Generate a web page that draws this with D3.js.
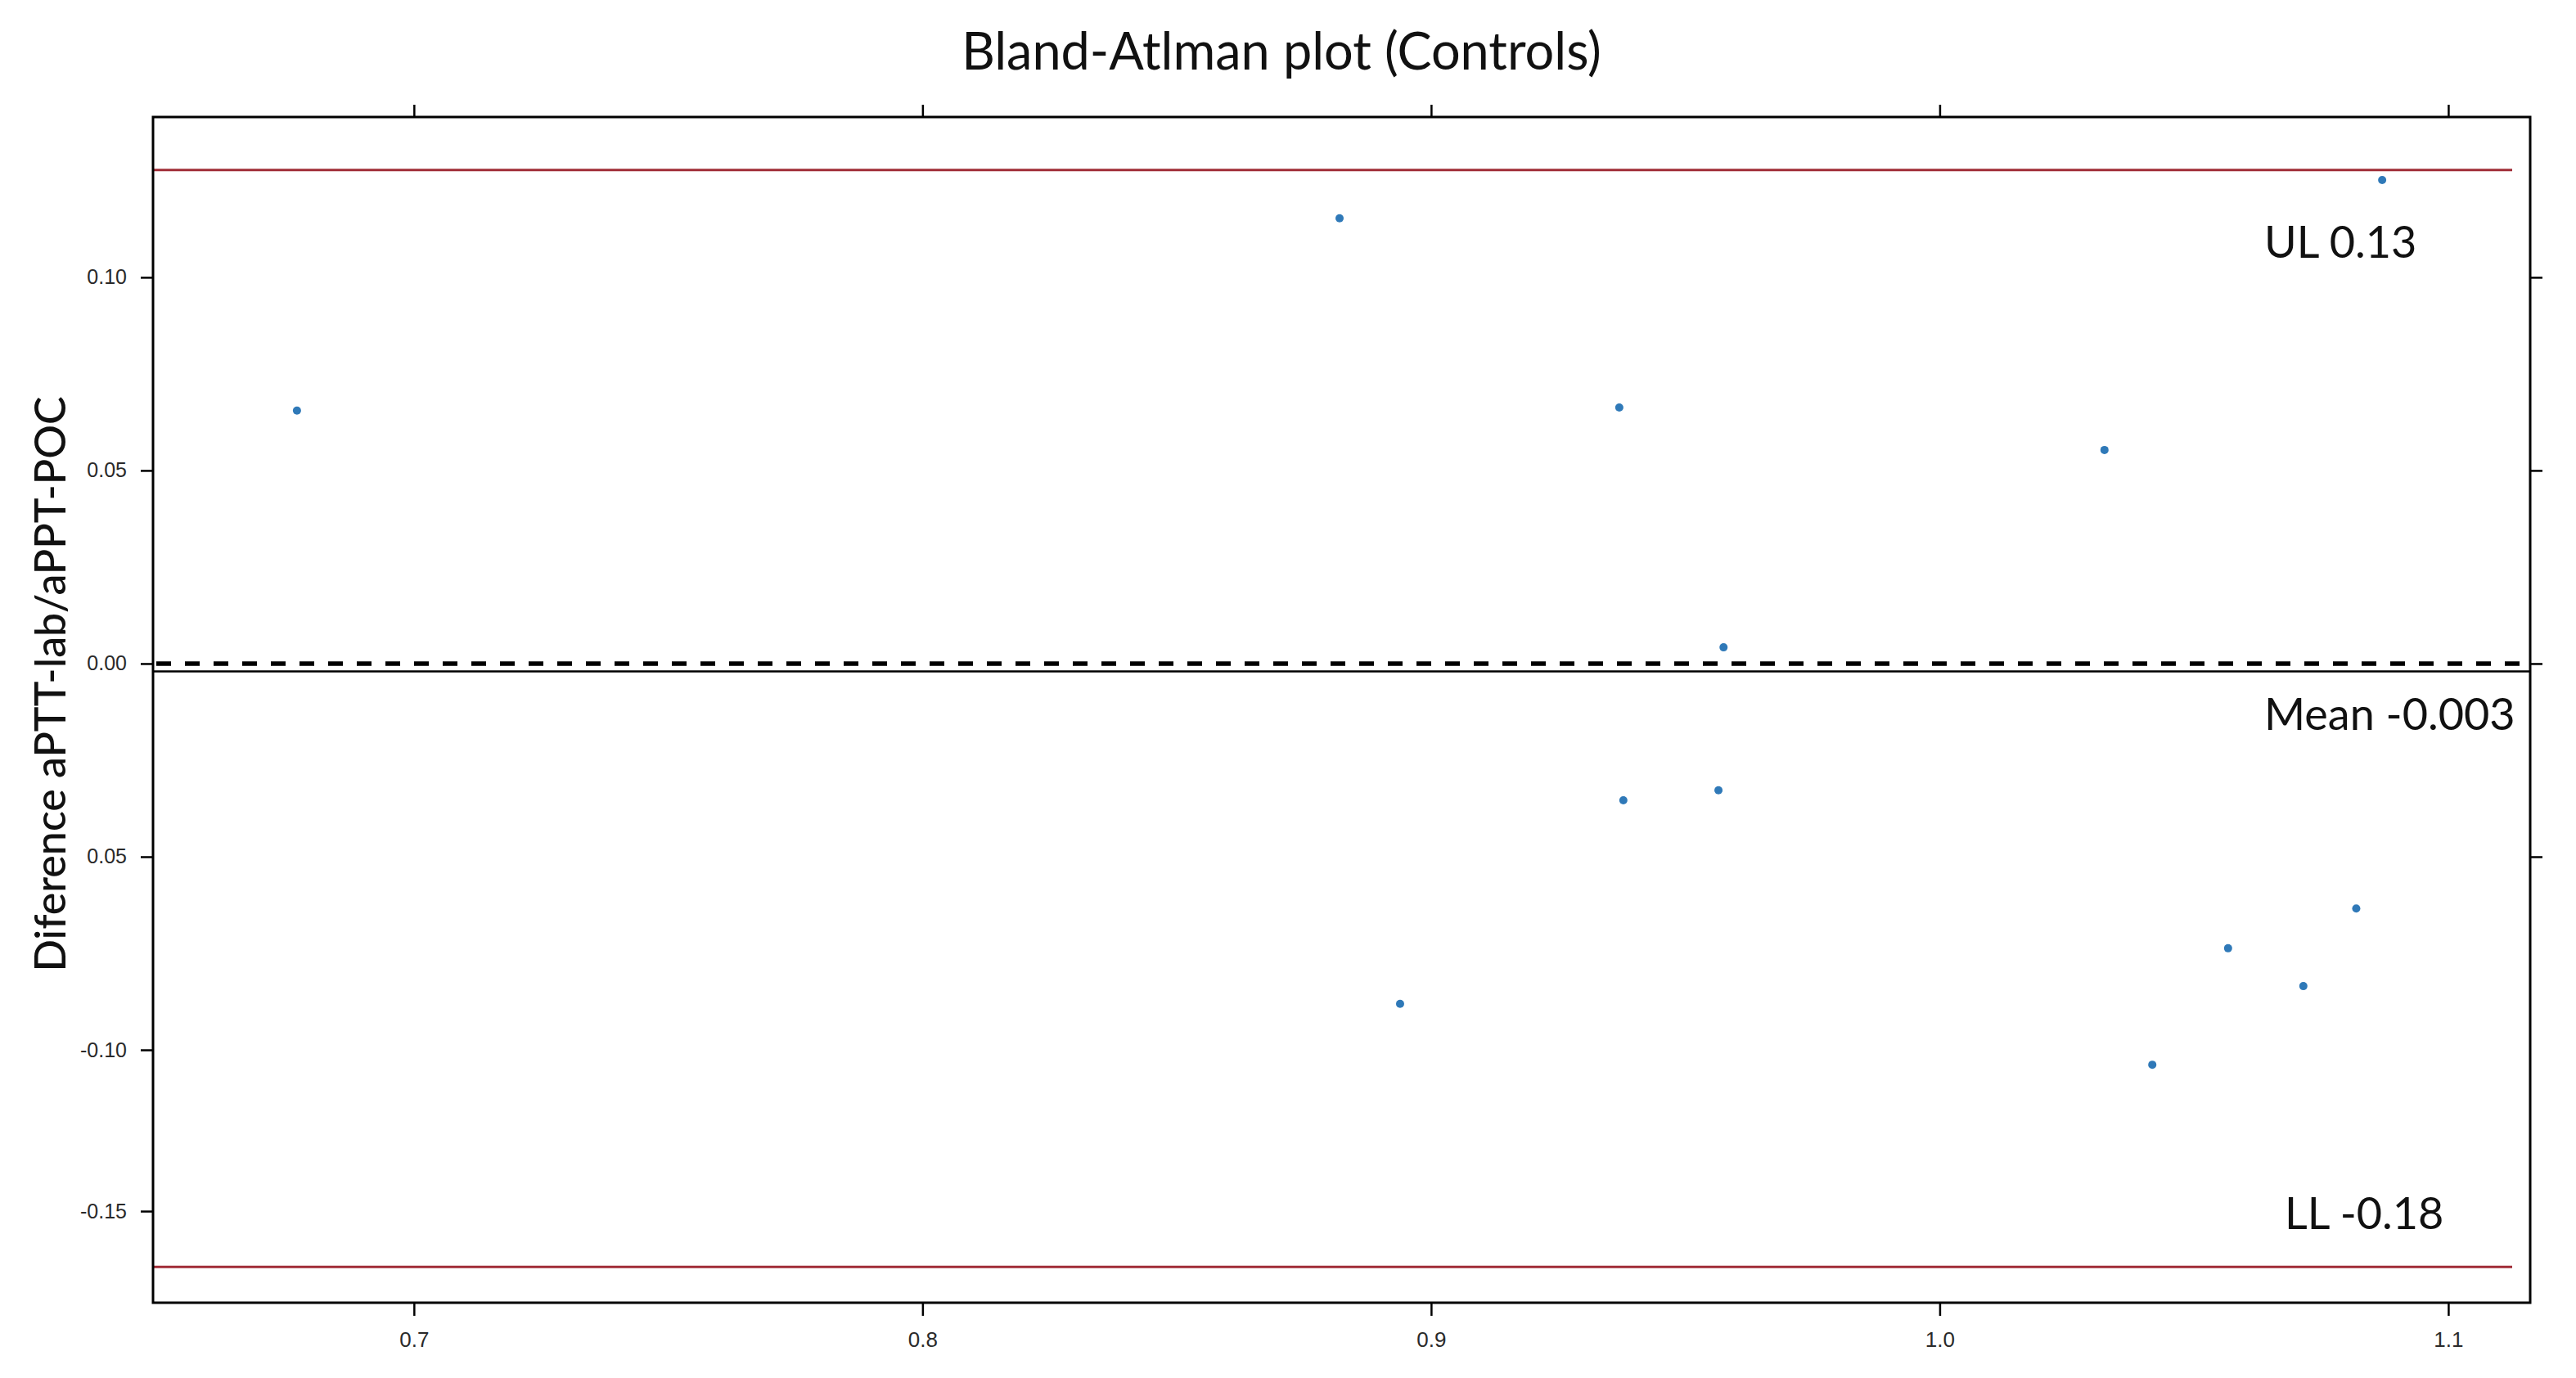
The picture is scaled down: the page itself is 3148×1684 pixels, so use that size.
<!DOCTYPE html>
<html>
<head>
<meta charset="utf-8">
<script src="https://cdn.jsdelivr.net/npm/d3@7"></script>
<style>
  body { margin: 0; background: #fff; }
  .tick text { font-family: "Liberation Sans", Arial, sans-serif; fill: #2a2a2a; }
  .tick line { stroke: #000; stroke-width: 2.5; }
  .big { font-family: Lato, "Open Sans", sans-serif; fill: #111; }
</style>
</head>
<body>
<script>
// data
var meanX = [0.677, 0.882, 0.937, 0.9575, 1.0324, 1.087, 0.9378, 0.9565, 0.8939, 1.0418, 1.0567, 1.0715, 1.0819];
var diffY = [0.0655, 0.1153, 0.0663, 0.0042, 0.0553, 0.1252, -0.0354, -0.0328, -0.0881, -0.1046, -0.0737, -0.0835, -0.0634];

var xTicks = [0.7, 0.8, 0.9, 1.0, 1.1];
var yTicks = [0.10, 0.05, 0.00, -0.05, -0.10, -0.15];
var yTickLabels = ["0.10", "0.05", "0.00", "0.05", "-0.10", "-0.15"];
var yTicksRight = [0.10, 0.05, 0.00, -0.05];

// limits of agreement
var upperLimit = 0.1278, zeroLine = 0.0, meanDiff = -0.002, lowerLimit = -0.1673;
var limitLabels = ["UL 0.13", "Mean -0.003", "LL -0.18"];

var title = "Bland-Atlman plot (Controls)";
var yTitle = "Diference aPTT-lab/aPPT-POC";

// set the dimensions of the graph
var W = 3148, H = 1684;
var plotLeft = 187, plotRight = 3092, plotTop = 143, plotBottom = 1592;

// set the ranges (the y axis of the original is not quite linear below -0.10)
var x = d3.scaleLinear().domain([0.6487, 1.1161]).range([plotLeft, plotRight]);
var y = d3.scaleLinear().domain([0.1415, -0.10, -0.1784]).range([plotTop, 1283, plotBottom]);

var svg = d3.select("body").append("svg")
    .attr("width", W)
    .attr("height", H);

svg.append("rect")
    .attr("width", W).attr("height", H)
    .attr("fill", "#fff");

// title
svg.append("text")
    .attr("class", "big")
    .attr("x", 1566)
    .attr("y", 85)
    .attr("text-anchor", "middle")
    .style("font-size", "63px")
    .text(title);

// y axis title
svg.append("text")
    .attr("class", "big")
    .attr("transform", "translate(80," + 836 + ") rotate(-90)")
    .attr("text-anchor", "middle")
    .style("font-size", "52px")
    .style("font-weight", 500)
    .text(yTitle);

// reference lines
svg.append("line")
    .attr("x1", plotLeft).attr("x2", 3070)
    .attr("y1", y(upperLimit)).attr("y2", y(upperLimit))
    .attr("stroke", "#a02d37").attr("stroke-width", 3);

svg.append("line")
    .attr("x1", plotLeft).attr("x2", 3070)
    .attr("y1", y(lowerLimit)).attr("y2", y(lowerLimit))
    .attr("stroke", "#a02d37").attr("stroke-width", 3);

svg.append("line")
    .attr("x1", plotLeft + 4).attr("x2", plotRight)
    .attr("y1", y(zeroLine)).attr("y2", y(zeroLine))
    .attr("stroke", "#000").attr("stroke-width", 5.5)
    .attr("stroke-dasharray", "18,17");

svg.append("line")
    .attr("x1", plotLeft).attr("x2", plotRight)
    .attr("y1", y(meanDiff)).attr("y2", y(meanDiff))
    .attr("stroke", "#000").attr("stroke-width", 2.5);

// the points
svg.selectAll("dot")
    .data(meanX)
    .enter().append("circle")
      .attr("r", 5)
      .attr("fill", "#2f79b8")
      .attr("cx", function(d) { return x(d); })
      .attr("cy", function(d, i) { return y(diffY[i]); });

// labels of the limits
var labelPos = [[2767, 315], [2767, 892], [2792, 1502]];
svg.selectAll("limitlabel")
    .data(limitLabels)
    .enter().append("text")
      .attr("class", "big")
      .attr("x", function(d, i) { return labelPos[i][0]; })
      .attr("y", function(d, i) { return labelPos[i][1]; })
      .style("font-size", "54px")
      .text(function(d) { return d; });

// Add the X Axis (bottom and top)
var xb = svg.append("g")
    .attr("transform", "translate(0," + plotBottom + ")")
    .call(d3.axisBottom(x).tickValues(xTicks).tickFormat(d3.format(".1f")).tickSize(16).tickPadding(20));
xb.selectAll("text").style("font-size", "26px");

svg.append("g")
    .attr("transform", "translate(0," + plotTop + ")")
    .call(d3.axisTop(x).tickValues(xTicks).tickFormat("").tickSize(15));

// Add the Y Axis (left and right)
var yl = svg.append("g")
    .attr("transform", "translate(" + plotLeft + ",0)")
    .call(d3.axisLeft(y).tickValues(yTicks).tickFormat(function(d, i) { return yTickLabels[i]; }).tickSize(15).tickPadding(17));
yl.selectAll("text").style("font-size", "25px");

svg.append("g")
    .attr("transform", "translate(" + plotRight + ",0)")
    .call(d3.axisRight(y).tickValues(yTicksRight).tickFormat("").tickSize(15));

svg.selectAll(".domain").remove();

// the frame
svg.append("rect")
    .attr("x", plotLeft).attr("y", plotTop)
    .attr("width", plotRight - plotLeft).attr("height", plotBottom - plotTop)
    .attr("fill", "none")
    .attr("stroke", "#000")
    .attr("stroke-width", 3);
</script>
</body>
</html>
